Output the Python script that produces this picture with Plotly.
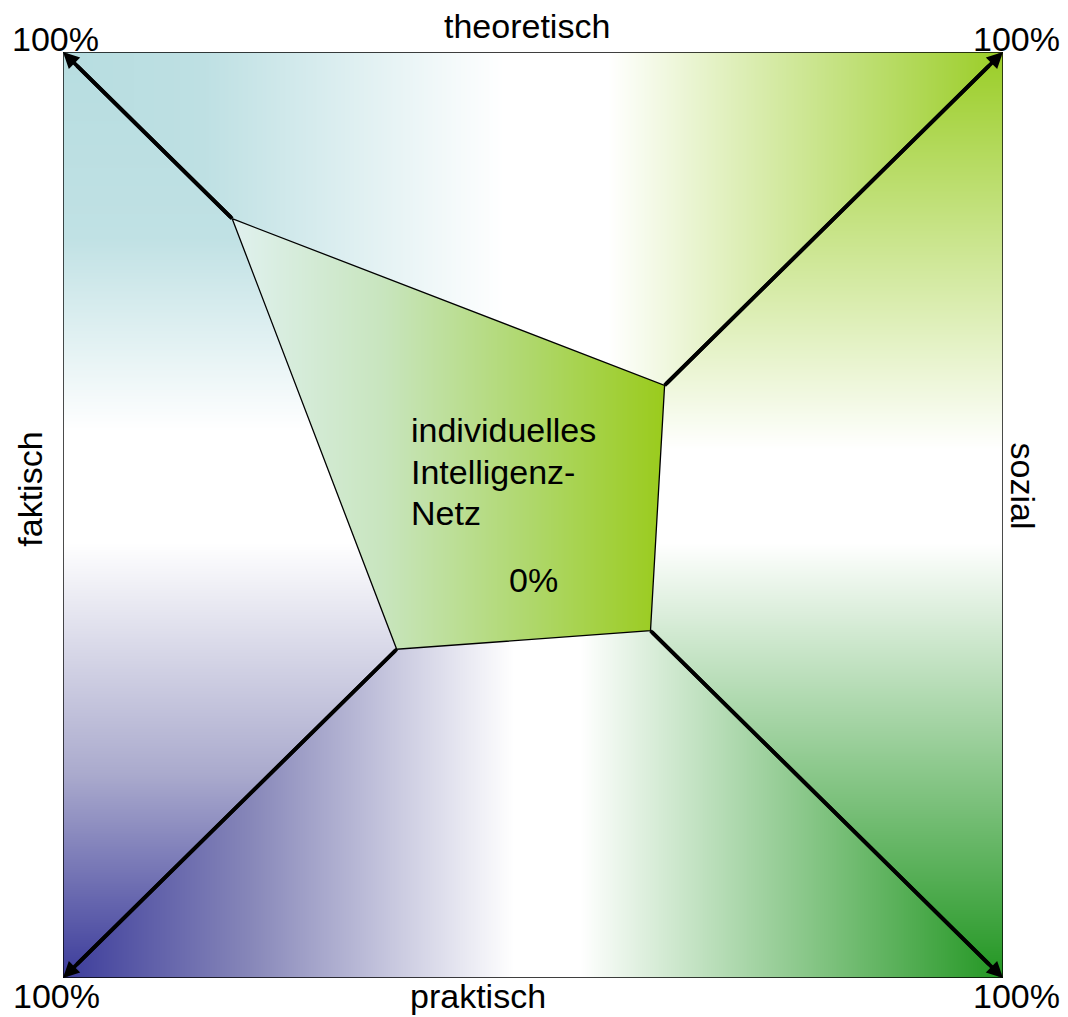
import numpy as np
import plotly.graph_objects as go

# ---------------- data ----------------
axis_names = ["theoretisch", "sozial", "praktisch", "faktisch"]   # top, right, bottom, left
corner_labels = ["100%", "100%", "100%", "100%"]                  # TL, TR, BR, BL
corner_values = [64, 28, 25, 29]                                   # % along each diagonal: TL, TR, BR, BL
center_label = "0%"
net_label = ["individuelles", "Intelligenz-", "Netz"]

# ---------------- style ----------------
W, H = 1068, 1017
FONT = "Liberation Sans, Arial, Helvetica, sans-serif"
FS = 34
teal = (183, 221, 224)
ygreen = (154, 205, 38)
blue = (60, 60, 155)
green = (34, 150, 34)
white = (255, 255, 255)

corner_dirs = [(-1, 1), (1, 1), (1, -1), (-1, -1)]
vx = [d[0] * v for d, v in zip(corner_dirs, corner_values)]
vy = [d[1] * v for d, v in zip(corner_dirs, corner_values)]

# ---------------- gradient background (one heatmap, piecewise colourscale) ----------------
nx, ny = 940, 926
xs = -100 + (np.arange(nx) + 0.5) * 200 / nx
ys = -100 + (np.arange(ny) + 0.5) * 200 / ny
X, Y = np.meshgrid(xs, ys)

# region 0 top, 1 right, 2 bottom, 3 left, 4 centre
z = np.zeros(X.shape, dtype=np.float64)
top = Y >= np.abs(X)
bottom = Y <= -np.abs(X)
right = (X > np.abs(Y))
left = (X < -np.abs(Y))
tx = (X + 100) / 200.0
ty = (100 - Y) / 200.0
z[top] = 0 + 0.99 * tx[top]
z[right] = 1 + 0.99 * ty[right]
z[bottom] = 2 + 0.99 * tx[bottom]
z[left] = 3 + 0.99 * ty[left]

inside = np.ones(X.shape, dtype=bool)
for i in range(4):
    x1, y1 = vx[i], vy[i]
    x2, y2 = vx[(i + 1) % 4], vy[(i + 1) % 4]
    cr = (x2 - x1) * (Y - y1) - (y2 - y1) * (X - x1)
    inside &= cr <= 0
cx0, cx1 = min(vx), max(vx)
tc = np.clip((X - cx0) / (cx1 - cx0), 0, 1)
z[inside] = 4 + 0.99 * tc[inside]
z = z.astype(np.float32)

region_stops = [
    [(0, teal), (0.15, (190, 224, 227)), (0.47, white), (0.58, white), (1, ygreen)],   # top
    [(0, ygreen), (0.43, white), (0.53, white), (1, green)],                            # right
    [(0, blue), (0.2, (135, 135, 185)), (0.48, white), (0.55, white), (1, green)],      # bottom
    [(0, teal), (0.2, (192, 225, 228)), (0.41, white), (0.53, white), (0.78, (170, 170, 205)), (1, blue)],  # left
    [(0, (224, 241, 239)), (0.35, (200, 229, 190)), (0.7, (174, 215, 105)), (1, (154, 203, 28))],  # centre
]
cs = []
for k, stops in enumerate(region_stops):
    for s, c in stops:
        cs.append([(k + 0.99 * s) / 5.0, "rgb(%d,%d,%d)" % c])
cs.append([1.0, cs[-1][1]])

fig = go.Figure()
fig.add_trace(go.Heatmap(
    z=z, x0=xs[0], dx=200 / nx, y0=ys[0], dy=200 / ny,
    colorscale=cs, zmin=0, zmax=5, showscale=False, zsmooth=False,
    hoverinfo="skip",
))

# inner net polygon
fig.add_trace(go.Scatter(
    x=vx + [vx[0]], y=vy + [vy[0]], mode="lines",
    line=dict(color="black", width=1.3), hoverinfo="skip", showlegend=False,
))

# thick spokes from net vertices towards corners
for i in range(4):
    fig.add_trace(go.Scatter(
        x=[vx[i], corner_dirs[i][0] * 97], y=[vy[i], corner_dirs[i][1] * 97],
        mode="lines", line=dict(color="black", width=3.8),
        hoverinfo="skip", showlegend=False,
    ))

# arrowheads at corners
for i in range(4):
    fig.add_annotation(
        x=corner_dirs[i][0] * 100, y=corner_dirs[i][1] * 100,
        ax=vx[i], ay=vy[i], xref="x", yref="y", axref="x", ayref="y",
        showarrow=True, arrowhead=2, arrowsize=0.85, arrowwidth=3.8,
        arrowcolor="black", standoff=0, startstandoff=0, text="",
    )

def px(d):
    return (d + 100) / 200.0

def txt(x, y, s, angle=0, xanchor="center"):
    fig.add_annotation(x=px(x), y=px(y), xref="paper", yref="paper", text=s, showarrow=False,
                       textangle=angle, xanchor=xanchor, yanchor="middle",
                       font=dict(family=FONT, size=FS, color="black"))

# axis names
txt(-1.2, 105.7, axis_names[0])
txt(104.2, 6.2, axis_names[1], angle=90)
txt(-11.6, -103.9, axis_names[2])
txt(-107.2, 5.5, axis_names[3], angle=-90)

# corner labels
corner_pos = [(-101.5, 102.9), (102.9, 102.9), (102.9, -103.9), (-101.3, -103.9)]
for (cx, cy), lab in zip(corner_pos, corner_labels):
    txt(cx, cy, lab)

# centre texts
for yy, line in zip([18.3, 9.3, 0.4], net_label):
    txt(-26.3, yy, line, xanchor="left")
txt(0.1, -14.0, center_label)

# frame
fig.add_shape(type="rect", x0=-100, y0=-100, x1=100, y1=100, xref="x", yref="y",
              line=dict(color="black", width=1.4), layer="above")

fig.update_layout(
    width=W, height=H,
    margin=dict(l=63, r=65, t=52, b=39, pad=0),
    paper_bgcolor="white", plot_bgcolor="white",
    xaxis=dict(range=[-100, 100], visible=False, fixedrange=True),
    yaxis=dict(range=[-100, 100], visible=False, fixedrange=True),
    showlegend=False,
)
fig.write_html("out.html", config={"displayModeBar": False},
               post_script="document.body.style.margin='0';")
